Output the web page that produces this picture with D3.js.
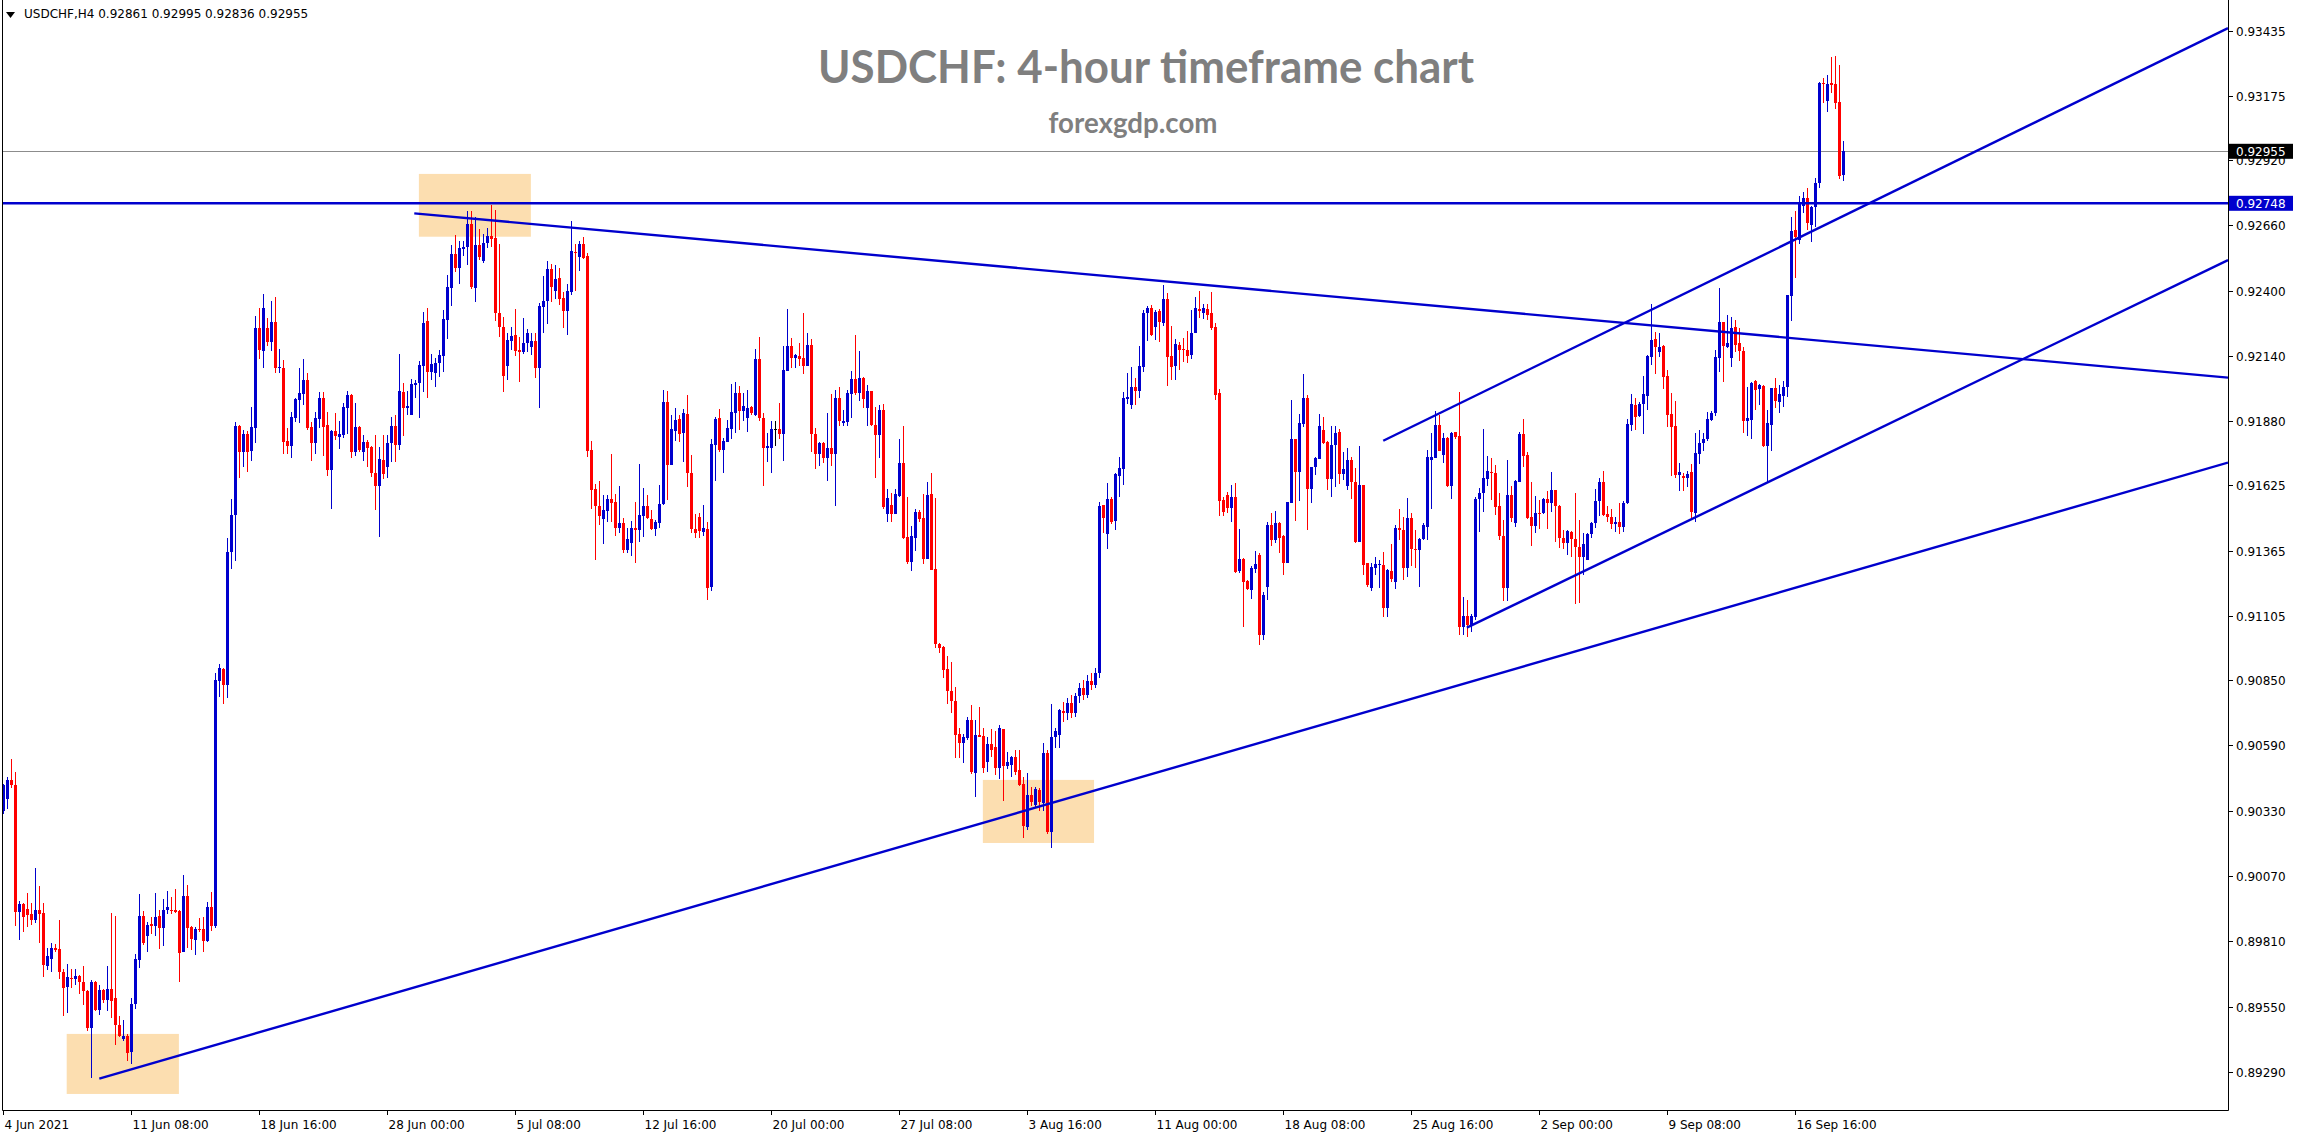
<!DOCTYPE html>
<html><head><meta charset="utf-8">
<script src="https://cdn.jsdelivr.net/npm/d3@7"></script>
<style>body{margin:0;background:#fff;}svg{display:block}</style>
</head><body><svg id="c" width="2300" height="1136"></svg>
<script>
const symbolInfo = "USDCHF,H4  0.92861 0.92995 0.92836 0.92955";
const titleText = "USDCHF: 4-hour timeframe chart";
const subtitleText = "forexgdp.com";
const opens=[.90329,.90377,.90453,.90432,.89928,.89958,.89940,.89920,.89897,.89934,
.89923,.89713,.89742,.89783,.89780,.89690,.89628,.89666,.89661,.89673,
.89649,.89614,.89466,.89649,.89538,.89618,.89576,.89621,.89583,.89476,
.89421,.89435,.89369,.89561,.89735,.89911,.89833,.89880,.89870,.89911,
.89865,.89934,.89937,.89934,.89932,.89770,.89989,.89868,.89816,.89859,
.89859,.89811,.89949,.89873,.90847,.90895,.90829,.91361,.91508,.91861,
.91758,.91830,.91761,.91853,.92250,.92160,.92253,.92197,.92276,.92094,
.92092,.91802,.91783,.91894,.91965,.91990,.92045,.91859,.91792,.91889,
.91974,.91865,.91686,.91841,.91819,.91825,.91934,.91984,.91759,.91858,
.91759,.91797,.91779,.91676,.91624,.91726,.91700,.91795,.91861,.91786,
.91997,.91935,.91905,.92026,.92031,.92102,.92280,.92078,.92074,.92111,
.92141,.92284,.92412,.92546,.92492,.92567,.92575,.92666,.92412,.92582,
.92518,.92591,.92618,.92611,.92310,.92254,.92102,.92201,.92224,.92164,
.92156,.92193,.92177,.92200,.92094,.92336,.92360,.92486,.92400,.92452,
.92372,.92319,.92393,.92554,.92535,.92588,.92538,.91766,.91610,.91543,
.91491,.91523,.91571,.91560,.91457,.91474,.91370,.91397,.91457,.91447,
.91504,.91543,.91491,.91451,.91476,.91551,.91958,.91706,.91843,.91888,
.91832,.91909,.91676,.91450,.91500,.91441,.91451,.91222,.91786,.91895,
.91766,.91799,.91849,.91914,.91991,.91921,.91895,.91936,.91905,.92128,
.91895,.91775,.91775,.91849,.91849,.91829,.92082,.92180,.92131,.92141,
.92132,.92099,.92184,.91828,.91751,.91795,.91733,.91773,.91751,.91973,
.91872,.91879,.91990,.92049,.91991,.92052,.91934,.92002,.91864,.91824,
.91925,.91510,.91549,.91510,.91582,.91716,.91420,.91321,.91416,.91520,
.91495,.91333,.91589,.91293,.90992,.90982,.90895,.90808,.90767,.90634,
.90601,.90620,.90692,.90482,.90631,.90627,.90526,.90594,.90584,.90501,
.90656,.90508,.90514,.90544,.90492,.90436,.90265,.90393,.90352,.90413,
.90362,.90562,.90244,.90624,.90631,.90728,.90718,.90760,.90720,.90785,
.90820,.90790,.90845,.90830,.90880,.91547,.91432,.91571,.91485,.91664,
.91690,.91969,.91945,.92018,.92001,.92098,.92310,.92333,.92257,.92319,
.92273,.92367,.92140,.92101,.92184,.92168,.92164,.92144,.92233,.92326,
.92313,.92327,.92310,.92257,.91992,.91567,.91587,.91537,.91578,.91284,
.91331,.91245,.91209,.91292,.91348,.91030,.91222,.91468,.91408,.91474,
.91425,.91318,.91557,.91810,.91677,.91870,.91974,.91611,.91700,.91730,
.91846,.91799,.91651,.91786,.91837,.91671,.91624,.91726,.91640,.91401,
.91627,.91315,.91215,.91295,.91308,.91308,.91136,.91286,.91240,.91454,
.91448,.91295,.91494,.91371,.91368,.91410,.91461,.91728,.91736,.91866,
.91746,.91813,.91624,.91837,.91822,.91060,.91105,.91070,.91100,.91571,
.91596,.91651,.91680,.91676,.91543,.91424,.91218,.91587,.91477,.91640,
.91830,.91746,.91501,.91464,.91517,.91514,.91570,.91554,.91607,.91543,
.91414,.91397,.91441,.91410,.91381,.91342,.91328,.91432,.91474,.91563,
.91640,.91511,.91498,.91470,.91480,.91460,.91556,.91865,.91945,.91901,
.91948,.91982,.92135,.92207,.92157,.92181,.92060,.91909,.91862,.91666,
.91662,.91653,.91680,.91517,.91749,.91792,.91808,.91885,.91912,.92131,
.92274,.92177,.92131,.92254,.92190,.92160,.91883,.91885,.92040,.92008,
.92021,.91782,.91866,.92011,.91958,.91981,.92016,.92380,.92642,.92602,
.92737,.92768,.92662,.92732,.92828,.93228,.93157,.93228,.93223,.93153,
.92861];
const highs=[.90438,.90463,.90536,.90484,.89972,.89963,.90003,.89963,.90101,.90032,
.89963,.89782,.89804,.89799,.89894,.89701,.89721,.89699,.89701,.89678,
.89713,.89618,.89657,.89652,.89638,.89621,.89713,.89923,.89911,.89514,
.89497,.89442,.89583,.89761,.89997,.89932,.89889,.89906,.90001,.89935,
.89977,.90011,.89987,.90018,.89937,.90075,.90035,.89873,.89868,.89902,
.89906,.89966,.90006,.90878,.90916,.90898,.91416,.91572,.91879,.91865,
.91844,.91841,.91939,.92300,.92330,.92387,.92293,.92360,.92376,.92168,
.92124,.91855,.91918,.91974,.92091,.92128,.92074,.91877,.91916,.91997,
.91997,.91916,.91846,.91912,.91881,.91954,.92001,.91988,.91952,.91862,
.91825,.91806,.91782,.91825,.91779,.91825,.91825,.91899,.91905,.92148,
.92031,.92002,.92049,.92044,.92122,.92314,.92330,.92147,.92131,.92164,
.92323,.92463,.92582,.92622,.92598,.92598,.92717,.92717,.92695,.92646,
.92625,.92648,.92741,.92721,.92586,.92297,.92233,.92257,.92327,.92215,
.92290,.92246,.92233,.92233,.92350,.92458,.92518,.92506,.92502,.92492,
.92393,.92427,.92677,.92586,.92598,.92612,.92549,.91802,.91630,.91642,
.91587,.91586,.91750,.91591,.91623,.91494,.91454,.91483,.91560,.91710,
.91616,.91587,.91527,.91487,.91626,.92005,.92001,.91905,.91932,.91905,
.91929,.91985,.91746,.91511,.91514,.91547,.91480,.91810,.91899,.91929,
.91812,.91885,.92029,.92035,.92020,.91991,.92005,.91941,.92168,.92215,
.91912,.91835,.91882,.91882,.91955,.92180,.92326,.92210,.92148,.92193,
.92310,.92230,.92208,.91854,.91799,.91799,.91912,.91987,.92006,.92016,
.91925,.92006,.92081,.92222,.92161,.92057,.92023,.92002,.91937,.91944,
.91948,.91611,.91596,.91611,.91811,.91861,.91578,.91463,.91531,.91527,
.91592,.91640,.91676,.91575,.90996,.90984,.90945,.90923,.90822,.90658,
.90634,.90703,.90753,.90692,.90743,.90660,.90624,.90656,.90646,.90673,
.90656,.90565,.90550,.90572,.90572,.90465,.90482,.90424,.90424,.90420,
.90601,.90572,.90757,.90660,.90735,.90764,.90780,.90790,.90800,.90840,
.90850,.90870,.90880,.90900,.91560,.91547,.91633,.91580,.91676,.91740,
.91998,.92074,.92098,.92054,.92180,.92323,.92339,.92343,.92323,.92326,
.92423,.92390,.92260,.92207,.92197,.92211,.92240,.92323,.92377,.92399,
.92347,.92347,.92396,.92270,.92009,.91580,.91598,.91627,.91633,.91452,
.91335,.91249,.91304,.91364,.91355,.91200,.91481,.91517,.91525,.91478,
.91428,.91560,.91965,.91810,.91909,.92069,.91985,.91700,.91740,.91909,
.91899,.91803,.91862,.91862,.91851,.91760,.91773,.91740,.91693,.91782,
.91627,.91318,.91315,.91339,.91328,.91361,.91291,.91392,.91468,.91530,
.91501,.91574,.91517,.91448,.91415,.91474,.91766,.91833,.91923,.91906,
.91835,.91817,.91839,.91839,.91998,.91180,.91169,.91115,.91580,.91614,
.91850,.91742,.91733,.91707,.91594,.91488,.91726,.91623,.91647,.91839,
.91890,.91760,.91637,.91583,.91567,.91574,.91603,.91677,.91607,.91547,
.91448,.91448,.91445,.91594,.91488,.91434,.91434,.91481,.91610,.91653,
.91684,.91543,.91530,.91500,.91554,.91564,.91889,.91989,.91972,.91956,
.92060,.92144,.92347,.92237,.92233,.92184,.92084,.91991,.91962,.91713,
.91673,.91684,.91709,.91832,.91845,.91835,.91918,.91922,.92164,.92412,
.92277,.92303,.92294,.92283,.92253,.92177,.92018,.92038,.92045,.92029,
.92025,.91925,.92011,.92051,.92025,.92041,.92383,.92692,.92717,.92777,
.92792,.92808,.92737,.92847,.93232,.93245,.93259,.93332,.93334,.93299,
.92995];
const lows=[.90317,.90339,.90420,.89873,.89814,.89846,.89868,.89877,.89885,.89804,
.89669,.89695,.89687,.89770,.89661,.89514,.89526,.89626,.89635,.89600,
.89557,.89454,.89265,.89535,.89518,.89566,.89535,.89505,.89397,.89428,
.89414,.89333,.89324,.89540,.89704,.89797,.89770,.89839,.89830,.89778,
.89790,.89920,.89920,.89923,.89647,.89770,.89782,.89776,.89756,.89846,
.89770,.89808,.89851,.89863,.90783,.90757,.90778,.91292,.91326,.91654,
.91698,.91680,.91723,.91792,.92130,.92094,.92180,.92160,.92074,.92071,
.91750,.91750,.91735,.91877,.91875,.91945,.91846,.91723,.91750,.91855,
.91743,.91664,.91531,.91806,.91770,.91812,.91828,.91735,.91743,.91759,
.91723,.91700,.91660,.91527,.91421,.91651,.91653,.91720,.91720,.91766,
.91823,.91905,.91905,.91972,.91892,.91998,.91974,.92045,.92018,.92058,
.92078,.92207,.92339,.92476,.92427,.92538,.92501,.92405,.92357,.92522,
.92512,.92571,.92575,.92281,.92217,.91998,.92045,.92164,.92141,.92038,
.92148,.92157,.92144,.92054,.91934,.92233,.92267,.92356,.92367,.92343,
.92253,.92224,.92385,.92399,.92480,.92525,.91739,.91531,.91328,.91467,
.91392,.91480,.91480,.91423,.91437,.91357,.91357,.91345,.91317,.91401,
.91421,.91491,.91447,.91423,.91454,.91549,.91567,.91706,.91802,.91799,
.91719,.91620,.91434,.91414,.91414,.91423,.91169,.91206,.91642,.91759,
.91676,.91799,.91808,.91835,.91845,.91882,.91839,.91905,.91902,.91882,
.91622,.91719,.91673,.91783,.91808,.91723,.92082,.92094,.92094,.92100,
.92067,.92099,.91758,.91691,.91701,.91715,.91644,.91702,.91543,.91860,
.91861,.91861,.91893,.91984,.91962,.91932,.91860,.91861,.91654,.91734,
.91531,.91481,.91478,.91510,.91579,.91411,.91314,.91285,.91365,.91478,
.91314,.91333,.91288,.90977,.90960,.90859,.90754,.90721,.90540,.90540,
.90521,.90610,.90475,.90385,.90624,.90482,.90486,.90543,.90471,.90456,
.90369,.90497,.90464,.90472,.90427,.90222,.90255,.90349,.90342,.90330,
.90330,.90236,.90181,.90579,.90579,.90685,.90690,.90700,.90705,.90760,
.90770,.90780,.90810,.90820,.90860,.91437,.91372,.91470,.91448,.91580,
.91627,.91948,.91928,.91945,.91972,.92078,.92201,.92220,.92204,.92197,
.92260,.92021,.92045,.92045,.92085,.92118,.92114,.92127,.92230,.92290,
.92288,.92284,.92244,.91965,.91503,.91503,.91514,.91481,.91278,.91275,
.91060,.91209,.91172,.91278,.90990,.91010,.91169,.91384,.91395,.91355,
.91269,.91318,.91556,.91485,.91564,.91859,.91448,.91556,.91667,.91730,
.91790,.91607,.91580,.91620,.91631,.91647,.91607,.91571,.91397,.91401,
.91269,.91222,.91206,.91269,.91215,.91100,.91103,.91242,.91211,.91408,
.91249,.91262,.91304,.91295,.91222,.91408,.91408,.91530,.91733,.91764,
.91716,.91620,.91570,.91810,.91030,.91030,.91020,.91040,.91090,.91441,
.91521,.91623,.91567,.91507,.91408,.91166,.91166,.91481,.91461,.91640,
.91700,.91490,.91385,.91434,.91450,.91510,.91450,.91521,.91401,.91375,
.91371,.91348,.91339,.91153,.91156,.91269,.91328,.91415,.91454,.91503,
.91503,.91480,.91450,.91440,.91430,.91440,.91552,.91843,.91845,.91896,
.91830,.91925,.92104,.92068,.92135,.92009,.91859,.91664,.91653,.91604,
.91603,.91617,.91494,.91478,.91710,.91763,.91803,.91883,.91901,.92078,
.92038,.92171,.92098,.92157,.92120,.91835,.91822,.91808,.91925,.91945,
.91779,.91633,.91763,.91932,.91914,.91936,.91978,.92281,.92449,.92586,
.92708,.92642,.92595,.92655,.92808,.93149,.93113,.93186,.93123,.92845,
.92836];
const closes=[.90432,.90453,.90432,.89928,.89958,.89908,.89916,.89897,.89937,.89920,
.89718,.89752,.89783,.89776,.89687,.89626,.89669,.89663,.89673,.89649,
.89612,.89466,.89649,.89538,.89618,.89576,.89621,.89573,.89476,.89435,
.89435,.89367,.89561,.89739,.89911,.89802,.89877,.89870,.89906,.89865,
.89937,.89949,.89932,.89927,.89766,.89989,.89865,.89818,.89859,.89854,
.89811,.89949,.89873,.90852,.90898,.90829,.91361,.91508,.91861,.91758,
.91830,.91758,.91858,.92250,.92165,.92333,.92197,.92276,.92094,.92098,
.91799,.91783,.91897,.91970,.91993,.92045,.91855,.91795,.91895,.91974,
.91859,.91686,.91841,.91821,.91831,.91937,.91984,.91759,.91858,.91766,
.91797,.91775,.91676,.91624,.91730,.91670,.91795,.91861,.91786,.92001,
.91935,.91941,.92029,.92031,.92104,.92273,.92078,.92108,.92114,.92144,
.92288,.92416,.92546,.92492,.92571,.92575,.92666,.92416,.92582,.92533,
.92589,.92618,.92606,.92310,.92254,.92062,.92204,.92220,.92160,.92158,
.92193,.92233,.92200,.92094,.92339,.92360,.92486,.92416,.92446,.92367,
.92319,.92399,.92558,.92549,.92588,.92529,.91762,.91607,.91543,.91504,
.91527,.91571,.91556,.91457,.91474,.91370,.91412,.91454,.91447,.91507,
.91543,.91494,.91451,.91480,.91551,.91958,.91706,.91849,.91885,.91829,
.91912,.91673,.91450,.91434,.91445,.91457,.91218,.91790,.91889,.91766,
.91803,.91855,.91916,.91991,.91921,.91941,.91935,.91912,.92128,.91892,
.91775,.91782,.91849,.91849,.91829,.92084,.92180,.92133,.92144,.92127,
.92099,.92184,.91828,.91751,.91795,.91734,.91773,.91751,.91973,.91881,
.91881,.91993,.92049,.91991,.92052,.91970,.92002,.91864,.91824,.91925,
.91541,.91575,.91510,.91589,.91716,.91416,.91321,.91423,.91520,.91491,
.91333,.91585,.91288,.90992,.90979,.90892,.90808,.90767,.90630,.90601,
.90624,.90692,.90485,.90631,.90624,.90501,.90594,.90573,.90501,.90660,
.90508,.90526,.90544,.90486,.90432,.90270,.90393,.90364,.90417,.90366,
.90562,.90244,.90624,.90646,.90731,.90718,.90760,.90720,.90785,.90820,
.90790,.90845,.90830,.90880,.91543,.91494,.91571,.91478,.91671,.91693,
.91972,.91978,.92018,.92001,.92101,.92313,.92333,.92224,.92317,.92277,
.92367,.92138,.92098,.92188,.92164,.92164,.92140,.92233,.92333,.92321,
.92333,.92304,.92250,.91985,.91564,.91521,.91534,.91578,.91282,.91331,
.91242,.91213,.91295,.91311,.91030,.91189,.91468,.91408,.91474,.91414,
.91318,.91558,.91810,.91677,.91872,.91974,.91611,.91700,.91733,.91863,
.91795,.91651,.91786,.91833,.91671,.91689,.91726,.91640,.91401,.91627,
.91308,.91229,.91302,.91311,.91311,.91136,.91289,.91253,.91454,.91448,
.91295,.91494,.91371,.91368,.91410,.91468,.91737,.91737,.91866,.91764,
.91813,.91623,.91833,.91819,.91060,.91105,.91070,.91105,.91571,.91596,
.91653,.91683,.91673,.91541,.91424,.91218,.91587,.91497,.91643,.91830,
.91742,.91497,.91465,.91514,.91514,.91570,.91554,.91607,.91543,.91414,
.91397,.91445,.91410,.91381,.91342,.91392,.91432,.91474,.91563,.91640,
.91507,.91498,.91470,.91480,.91460,.91556,.91869,.91949,.91899,.91949,
.91987,.92140,.92204,.92177,.92177,.92058,.91905,.91859,.91666,.91680,
.91653,.91670,.91520,.91753,.91792,.91808,.91888,.91912,.92137,.92274,
.92180,.92190,.92253,.92186,.92160,.91883,.91892,.92034,.92006,.92025,
.91782,.91872,.92011,.91961,.91987,.92018,.92383,.92638,.92615,.92745,
.92768,.92671,.92735,.92828,.93228,.93222,.93223,.93219,.93149,.92858,
.92955];
const dateLabels=["4 Jun 2021","11 Jun 08:00","18 Jun 16:00","28 Jun 00:00","5 Jul 08:00","12 Jul 16:00","20 Jul 00:00","27 Jul 08:00","3 Aug 16:00","11 Aug 00:00","18 Aug 08:00","25 Aug 16:00","2 Sep 00:00","9 Sep 08:00","16 Sep 16:00"];
const barsPerLabel = 32;
const priceTicks=[0.93435,0.93175,0.92920,0.92660,0.92400,0.92140,0.91880,0.91625,0.91365,0.91105,0.90850,0.90590,0.90330,0.90070,0.89810,0.89550,0.89290];
const currentPrice = 0.92955;
const levelPrice = 0.92748;
// trend lines: [startBar, startPrice, endBar, endPrice]
const trendLines=[[24,0.89264,556.2,0.91716],[102.75,0.92708,556.2,0.92054],[345,0.91803,556.2,0.93445],[365.9,0.91059,556.2,0.92522]];
// highlight zones: [fromBar, toBar, topPrice, bottomPrice]
const zones=[[15.85,43.9,0.89442,0.89203],[103.9,131.9,0.92865,0.92615],[244.9,272.7,0.90453,0.90202]];

const W=2300,H=1136;
const plot={left:2.5,right:2228,top:0,bottom:1110};
const svg=d3.select("#c");
const x=d3.scaleLinear().domain([0,556.2]).range([3.3,2228]);
const y=d3.scaleLinear().domain([0.89290,0.93435]).range([1072.1,30.7]);
const BLUE="#0000CD", RED="#FF0000";

svg.append("rect").attr("width",W).attr("height",H).attr("fill","#fff");
svg.append("defs").append("clipPath").attr("id","pc").append("rect")
 .attr("x",plot.left).attr("y",plot.top).attr("width",plot.right-plot.left).attr("height",plot.bottom-plot.top);
const g=svg.append("g").attr("clip-path","url(#pc)");

// zones
g.selectAll("rect.zone").data(zones).join("rect").attr("class","zone")
 .attr("x",d=>x(d[0])).attr("width",d=>x(d[1])-x(d[0]))
 .attr("y",d=>y(d[2])).attr("height",d=>y(d[3])-y(d[2]))
 .attr("fill","#FCDEB0");

// current price line
g.append("line").attr("x1",plot.left).attr("x2",plot.right)
 .attr("y1",Math.round(y(currentPrice))+0.5).attr("y2",Math.round(y(currentPrice))+0.5)
 .attr("stroke","#8c8c8c").attr("stroke-width",1);

// candles
const data=opens.map((o,i)=>({i,o,h:highs[i],l:lows[i],c:closes[i]}));
const col=d=>d.c>d.o?BLUE:(d.c<d.o?RED:"#000");
const cg=g.append("g");
cg.selectAll("rect.wick").data(data).join("rect").attr("class","wick")
 .attr("x",d=>Math.round(x(d.i))).attr("width",1)
 .attr("y",d=>Math.round(y(d.h))).attr("height",d=>Math.max(1,Math.round(y(d.l))-Math.round(y(d.h))))
 .attr("fill",col);
cg.selectAll("rect.body").data(data).join("rect").attr("class","body")
 .attr("x",d=>Math.round(x(d.i))-1).attr("width",3)
 .attr("y",d=>Math.round(y(Math.max(d.o,d.c))))
 .attr("height",d=>Math.max(1,Math.round(y(Math.min(d.o,d.c)))-Math.round(y(Math.max(d.o,d.c)))))
 .attr("fill",col);

// horizontal level
g.append("line").attr("x1",plot.left).attr("x2",plot.right)
 .attr("y1",y(levelPrice)).attr("y2",y(levelPrice))
 .attr("stroke",BLUE).attr("stroke-width",2.5);
// trend lines
g.selectAll("line.trend").data(trendLines).join("line").attr("class","trend")
 .attr("x1",d=>x(d[0])).attr("y1",d=>y(d[1])).attr("x2",d=>x(d[2])).attr("y2",d=>y(d[3]))
 .attr("stroke",BLUE).attr("stroke-width",2.4);

// frame
svg.append("path").attr("d",`M${plot.left},0V${plot.bottom+0.5}H${plot.right+0.5}V0`)
 .attr("fill","none").attr("stroke","#000").attr("stroke-width",1);

// right axis
const ax=svg.append("g").attr("font-family","DejaVu Sans, Verdana, sans-serif").attr("font-size",12);
priceTicks.forEach(p=>{
  const yy=Math.round(y(p))+0.5;
  ax.append("line").attr("x1",plot.right).attr("x2",plot.right+5).attr("y1",yy).attr("y2",yy).attr("stroke","#000");
  ax.append("text").attr("x",2236).attr("y",yy+4.5).attr("fill","#000").text(p.toFixed(5));
});
function priceBox(p,bg){
  const yy=y(p);
  ax.append("rect").attr("x",plot.right+1).attr("y",yy-7.5).attr("width",64).attr("height",15).attr("fill",bg);
  ax.append("text").attr("x",2236).attr("y",yy+4.5).attr("fill","#fff").text(p.toFixed(5));
}
priceBox(currentPrice,"#000");
priceBox(levelPrice,BLUE);

// bottom axis
dateLabels.forEach((t,k)=>{
  const xx=Math.round(x(k*barsPerLabel))+0.5;
  ax.append("line").attr("x1",xx).attr("x2",xx).attr("y1",plot.bottom).attr("y2",plot.bottom+5).attr("stroke","#000");
  ax.append("text").attr("x",xx+1).attr("y",1129).attr("fill","#000").text(t);
});

// info text
svg.append("path").attr("d","M6,12H15L10.5,18Z").attr("fill","#000");
svg.append("text").attr("x",24).attr("y",18).attr("font-family","DejaVu Sans, Verdana, sans-serif").attr("font-size",12).attr("fill","#000").text(symbolInfo);

// title
svg.append("text").attr("x",1146).attr("y",83).attr("text-anchor","middle")
 .attr("font-family","Lato, sans-serif").attr("font-weight","bold").attr("font-size",46)
 .attr("fill","#7f7f7f").attr("textLength",656).attr("lengthAdjust","spacingAndGlyphs").text(titleText);
svg.append("text").attr("x",1133).attr("y",133).attr("text-anchor","middle")
 .attr("font-family","Lato, sans-serif").attr("font-weight","bold").attr("font-size",28)
 .attr("fill","#7f7f7f").attr("textLength",169).attr("lengthAdjust","spacingAndGlyphs").text(subtitleText);
</script></body></html>
